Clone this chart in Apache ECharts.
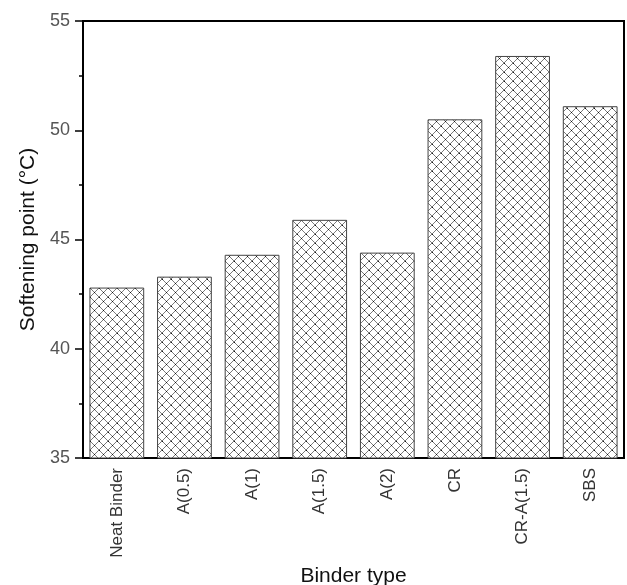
<!DOCTYPE html>
<html>
<head>
<meta charset="utf-8">
<script src="https://cdn.jsdelivr.net/npm/echarts@6/dist/echarts.min.js"></script>
<style>
    html, body { margin: 0; padding: 0; background: #fff; }
    #main { width: 627px; height: 585px; }
</style>
</head>
<body>
<div id="main"></div>
<script>
    let binders = ['Neat Binder', 'A(0.5)', 'A(1)', 'A(1.5)', 'A(2)', 'CR', 'CR-A(1.5)', 'SBS'];
    let softening = [42.8, 43.3, 44.3, 45.9, 44.4, 50.5, 53.4, 51.1];
    let yTicks = [35, 40, 45, 50, 55];

    // crosshatch tile for the bars
    function hatch() {
        let s = 9;
        let c = document.createElement('canvas');
        c.width = s;
        c.height = s;
        let ctx = c.getContext('2d');
        ctx.fillStyle = '#fff';
        ctx.fillRect(0, 0, s, s);
        ctx.strokeStyle = '#7a7a7a';
        ctx.lineWidth = 1;
        ctx.beginPath();
        ctx.moveTo(0, 0); ctx.lineTo(s, s);
        ctx.moveTo(0, s); ctx.lineTo(s, 0);
        ctx.stroke();
        ctx.fillStyle = '#111';
        ctx.fillRect(Math.floor(s / 2), Math.floor(s / 2), 1, 1);
        ctx.fillRect(0, 0, 1, 1);
        return c;
    }

    let chart = echarts.init(document.getElementById('main'));

    let option = {
        animation: false,
        backgroundColor: '#fff',
        textStyle: { fontFamily: 'Liberation Sans' },
        grid: {
            left: 83,
            right: 3,
            top: 21,
            bottom: 127,
            containLabel: false,
            outerBoundsMode: 'none',
            show: true,
            borderColor: '#000',
            borderWidth: 2
        },
        xAxis: {
            type: 'category',
            data: binders,
            name: 'Binder type',
            nameLocation: 'middle',
            nameGap: 108,
            nameTextStyle: { fontSize: 21, color: '#111' },
            axisLine: { lineStyle: { color: '#000', width: 2 } },
            axisTick: { show: false },
            axisLabel: { rotate: 90, fontSize: 17, color: '#333', margin: 10, interval: 0 }
        },
        yAxis: {
            type: 'value',
            min: yTicks[0],
            max: yTicks[yTicks.length - 1],
            interval: 5,
            name: 'Softening point (°C)',
            nameLocation: 'middle',
            nameGap: 44,
            nameTextStyle: { fontSize: 21, color: '#111' },
            axisLine: { show: true, lineStyle: { color: '#000', width: 2 } },
            axisTick: { show: true, length: 8, lineStyle: { color: '#000', width: 1.5 } },
            minorTick: { show: true, splitNumber: 2, length: 4, lineStyle: { color: '#000', width: 1.5 } },
            splitLine: { show: false },
            axisLabel: { fontSize: 18, color: '#555', margin: 13 }
        },
        series: [{
            type: 'bar',
            data: softening,
            barWidth: '81%',
            itemStyle: {
                color: { image: hatch(), repeat: 'repeat' },
                borderColor: '#444',
                borderWidth: 1
            }
        }]
    };

    chart.setOption(option);
</script>
</body>
</html>
